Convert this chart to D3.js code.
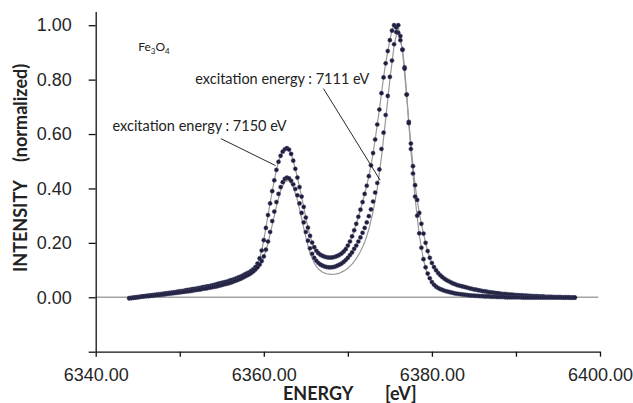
<!DOCTYPE html>
<html><head><meta charset="utf-8">
<script src="https://cdn.jsdelivr.net/npm/d3@7"></script>
<style>html,body{margin:0;padding:0;background:#fff;} svg{display:block;background:#fff}</style>
</head><body><svg id="chart" width="633" height="403"></svg>
<script>
// Energy grid of the measured points (eV)
const energyStart = 6344, energyStep = 0.25;

// Excitation energy 7150 eV (dots), one row per eV
const intensity7150 = [
-0.003,-0.002,-0.001,0.000,
0.001,0.002,0.003,0.004,
0.005,0.006,0.007,0.008,
0.009,0.010,0.011,0.012,
0.013,0.014,0.015,0.016,
0.017,0.018,0.019,0.021,
0.022,0.023,0.024,0.026,
0.027,0.028,0.030,0.031,
0.032,0.034,0.035,0.037,
0.038,0.040,0.041,0.043,
0.045,0.047,0.049,0.051,
0.053,0.055,0.057,0.059,
0.062,0.064,0.067,0.070,
0.073,0.076,0.080,0.084,
0.088,0.092,0.097,0.103,
0.111,0.124,0.143,0.172,
0.210,0.255,0.302,0.345,
0.390,0.430,0.468,0.498,
0.520,0.535,0.544,0.548,
0.543,0.527,0.502,0.472,
0.440,0.405,0.370,0.332,
0.293,0.256,0.226,0.201,
0.184,0.171,0.162,0.156,
0.152,0.149,0.147,0.146,
0.146,0.147,0.149,0.152,
0.156,0.161,0.168,0.177,
0.190,0.205,0.224,0.246,
0.270,0.296,0.322,0.350,
0.380,0.410,0.445,0.485,
0.530,0.580,0.635,0.690,
0.750,0.808,0.860,0.905,
0.945,0.980,1.000,0.992,
0.972,0.945,0.910,0.845,
0.745,0.645,0.565,0.482,
0.412,0.358,0.310,0.270,
0.234,0.200,0.170,0.145,
0.126,0.111,0.099,0.089,
0.081,0.074,0.068,0.063,
0.059,0.055,0.051,0.048,
0.045,0.043,0.041,0.039,
0.037,0.035,0.033,0.031,
0.029,0.028,0.026,0.025,
0.023,0.022,0.021,0.019,
0.018,0.017,0.016,0.015,
0.014,0.013,0.012,0.012,
0.011,0.010,0.010,0.009,
0.008,0.008,0.007,0.007,
0.006,0.006,0.005,0.005,
0.004,0.004,0.004,0.003,
0.003,0.003,0.002,0.002,
0.002,0.002,0.001,0.001,
0.001,0.001,0.000,0.000,
0.000,0.000,-0.001,-0.001,
-0.001
];

// Excitation energy 7111 eV (dots), one row per eV
const intensity7111 = [
-0.004,-0.003,-0.002,-0.001,
0.000,0.001,0.002,0.003,
0.004,0.004,0.005,0.006,
0.007,0.008,0.008,0.009,
0.010,0.011,0.012,0.013,
0.014,0.015,0.016,0.017,
0.018,0.019,0.020,0.021,
0.022,0.023,0.024,0.026,
0.027,0.028,0.029,0.031,
0.032,0.033,0.035,0.036,
0.038,0.039,0.041,0.043,
0.045,0.047,0.049,0.051,
0.053,0.056,0.059,0.062,
0.065,0.068,0.072,0.076,
0.080,0.084,0.089,0.095,
0.102,0.110,0.120,0.133,
0.150,0.175,0.205,0.240,
0.280,0.315,0.350,0.380,
0.405,0.423,0.435,0.440,
0.437,0.428,0.415,0.398,
0.375,0.345,0.310,0.275,
0.240,0.208,0.180,0.160,
0.145,0.134,0.126,0.120,
0.116,0.113,0.111,0.110,
0.110,0.111,0.113,0.116,
0.120,0.124,0.130,0.137,
0.145,0.155,0.165,0.178,
0.190,0.205,0.220,0.237,
0.255,0.275,0.298,0.323,
0.352,0.385,0.420,0.470,
0.545,0.605,0.670,0.740,
0.810,0.870,0.930,0.975,
1.000,0.960,0.910,0.840,
0.745,0.640,0.545,0.455,
0.370,0.300,0.235,0.182,
0.140,0.110,0.087,0.070,
0.056,0.046,0.039,0.034,
0.030,0.027,0.024,0.022,
0.020,0.018,0.016,0.014,
0.013,0.012,0.011,0.010,
0.009,0.008,0.007,0.006,
0.006,0.005,0.005,0.004,
0.004,0.003,0.003,0.003,
0.002,0.002,0.002,0.001,
0.001,0.001,0.001,0.000,
0.000,0.000,0.000,0.000,
0.000,0.000,0.000,-0.001,
-0.001,-0.001,-0.001,-0.001,
-0.001,-0.001,-0.001,-0.001,
-0.001,-0.001,-0.001,-0.001,
-0.001,-0.001,-0.001,-0.001,
-0.001,-0.001,-0.001,-0.001,
-0.001,-0.001,-0.001,-0.001,
-0.001
];

// Gray fitted curve for the 7111 eV spectrum
const fit7111Energy = [6344,6347,6350,6353,6356,6358,6359,
6359.5,6360,6360.5,6361,6361.5,6362,6362.5,6363,6363.5,6364,6364.5,6365,6365.5,6366,6366.5,6367,6367.5,6368,6368.5,6369,6369.5,6370,6370.5,6371,6371.5,6372,6372.5,6373,6373.5,6374,6374.5,6375,6375.5,6376,6376.5,6377,6377.5,6378,6378.5,6379,6379.5,6380,
6381,6382,6384,6386,6390,6397];
const fit7111 = [-0.003,0.007,0.018,0.032,0.053,0.080,0.100,
0.117,0.148,0.198,0.265,0.335,0.392,0.424,0.430,0.405,0.358,0.290,0.220,0.162,0.125,0.104,0.092,0.086,0.084,0.085,0.089,0.096,0.107,0.122,0.142,0.168,0.202,0.250,0.315,0.400,0.515,0.655,0.800,0.925,0.995,0.905,0.740,0.540,0.365,0.228,0.137,0.083,0.054,
0.029,0.019,0.008,0.004,0.001,0.000];

const xTicks = [6340,6350,6360,6370,6380,6390,6400];
const xLabelTicks = [6340,6360,6380,6400];
const yTicks = [-0.2,0,0.2,0.4,0.6,0.8,1.0];
const yLabelTicks = [0,0.2,0.4,0.6,0.8,1.0];

const svg = d3.select("#chart");
const x = d3.scaleLinear().domain([6340,6400]).range([95.7,600]);
const y = d3.scaleLinear().domain([-0.2,1.05]).range([351.7,11.6]);

const energies = intensity7150.map((_, i) => energyStart + i*energyStep);
const seriesA = energies.map((e,i)=>[e, intensity7150[i]]);
const seriesB = energies.map((e,i)=>[e, intensity7111[i]]);
const fitB = fit7111Energy.map((e,i)=>[e, fit7111[i]]);

// zero line
svg.append("line")
  .attr("x1", x(6340)).attr("x2", x(6399.8))
  .attr("y1", y(0)).attr("y2", y(0))
  .attr("stroke","#a3a3a3").attr("stroke-width",1.6);

const fmt = d3.format(".2f");
const xAxis = d3.axisBottom(x).tickValues(xTicks)
  .tickFormat(d => xLabelTicks.includes(d) ? fmt(d) : "")
  .tickSize(5).tickSizeOuter(0).tickPadding(11.5);
const yAxis = d3.axisLeft(y).tickValues(yTicks)
  .tickFormat(d => yLabelTicks.some(v => Math.abs(v-d)<1e-9) ? fmt(d) : "")
  .tickSize(7).tickSizeOuter(0).tickPadding(17);

const gx = svg.append("g").attr("transform",`translate(0,${y(-0.2)})`).call(xAxis);
const gy = svg.append("g").attr("transform",`translate(${x(6340)},0)`).call(yAxis);
[gx, gy].forEach(g => {
  g.selectAll("path,line").attr("stroke","#111").attr("stroke-width",1.3);
  g.selectAll("text").attr("font-family","'Liberation Sans', Arial, sans-serif")
   .attr("font-size",18).attr("fill","#262626");
});

// fitted gray lines
const line = d3.line().x(d=>x(d[0])).y(d=>y(d[1]));
svg.append("path").datum(seriesA).attr("d",line)
  .attr("fill","none").attr("stroke","#9a9a9a").attr("stroke-width",1.2);
svg.append("path").datum(fitB).attr("d",line)
  .attr("fill","none").attr("stroke","#9a9a9a").attr("stroke-width",1.2);

// dots
[seriesA, seriesB].forEach(s => {
  svg.append("g").selectAll("circle").data(s).join("circle")
    .attr("cx", d=>x(d[0])).attr("cy", d=>y(d[1])).attr("r",2.1)
    .attr("fill","#1d1d3b").attr("stroke","#4a4a70").attr("stroke-opacity",0.55).attr("stroke-width",0.8);
});

// annotations
const annoFont = "Lato, 'Open Sans', sans-serif";
const fe = svg.append("text").attr("x", x(6345.05)).attr("y", y(0.905))
  .attr("font-family",annoFont).attr("font-size",12).attr("fill","#222");
fe.append("tspan").text("Fe");
fe.append("tspan").attr("font-size",8).attr("dy",2.5).text("3");
fe.append("tspan").attr("dy",-2.5).text("O");
fe.append("tspan").attr("font-size",8).attr("dy",2.5).text("4");

svg.append("text").attr("x", x(6351.85)).attr("y", y(0.783))
  .attr("font-family",annoFont).attr("font-size",14.5).attr("fill","#222")
  .text("excitation energy : 7111 eV");
svg.append("text").attr("x", x(6342.0)).attr("y", y(0.61))
  .attr("font-family",annoFont).attr("font-size",14.5).attr("fill","#222")
  .text("excitation energy : 7150 eV");

svg.append("line").attr("x1",x(6367.1)).attr("y1",y(0.767)).attr("x2",x(6373.85)).attr("y2",y(0.43))
  .attr("stroke","#111").attr("stroke-width",0.9);
svg.append("line").attr("x1",x(6354.9)).attr("y1",y(0.583)).attr("x2",x(6361.4)).attr("y2",y(0.484))
  .attr("stroke","#111").attr("stroke-width",0.9);

// axis titles
const titleFont = "Lato, 'Open Sans', sans-serif";
svg.append("text").attr("x",283).attr("y",400)
  .attr("font-family",titleFont).attr("font-weight","bold").attr("font-size",18).attr("fill","#222")
  .text("ENERGY");
svg.append("text").attr("x",385).attr("y",400)
  .attr("font-family",titleFont).attr("font-weight","bold").attr("font-size",18).attr("fill","#222")
  .text("[eV]");
svg.append("text").attr("transform","translate(27,272) rotate(-90)")
  .attr("font-family",titleFont).attr("font-weight","bold").attr("font-size",18).attr("fill","#222")
  .text("INTENSITY");
svg.append("text").attr("transform","translate(27,162) rotate(-90)")
  .attr("font-family",titleFont).attr("font-weight","bold").attr("font-size",18).attr("fill","#222")
  .text("(normalized)");
</script>
</body></html>
